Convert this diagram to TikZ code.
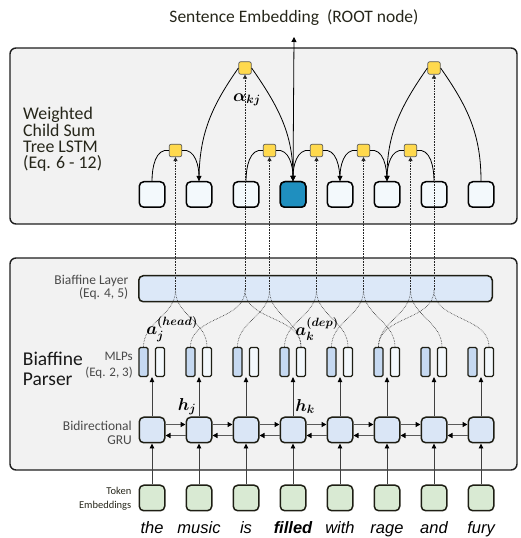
\documentclass[tikz,border=0pt]{standalone}
\usepackage{fontspec}
\setmainfont{Carlito}
\newfontfamily\wordfont{Liberation Sans}
\usepackage{amsmath,bm}
\usetikzlibrary{arrows.meta,calc}
\definecolor{panelbg}{HTML}{F2F2F2}
\definecolor{panelline}{HTML}{1E1E1E}
\definecolor{boxline}{HTML}{1E1E14}
\definecolor{treefill}{HTML}{F3F9FC}
\definecolor{rootfill}{HTML}{1F8FBF}
\definecolor{yfill}{HTML}{FFD94D}
\definecolor{ylinec}{HTML}{5A5A5A}
\definecolor{mlpbfill}{HTML}{C6D9F1}
\definecolor{mlpwfill}{HTML}{F3F8FC}
\definecolor{biaffill}{HTML}{DCE8F8}
\definecolor{grufill}{HTML}{DAE6F6}
\definecolor{tokfill}{HTML}{D9EAD3}
\definecolor{vlinec}{HTML}{404040}
\definecolor{hlinec}{HTML}{5A5A5A}
\definecolor{txtdark}{HTML}{26261A}
\definecolor{txtgray}{HTML}{4A4A4A}
\begin{document}
\begin{tikzpicture}[x=1pt,y=1pt,
 panel/.style={draw=panelline,line width=1.4pt,fill=panelbg,rounded corners=6pt},
 treebox/.style={draw=black,line width=1.5pt,fill=treefill,rounded corners=4.5pt,minimum size=25.5pt,inner sep=0pt},
 grubox/.style={draw=boxline,line width=1.5pt,fill=grufill,rounded corners=4.5pt,minimum size=25.5pt,inner sep=0pt},
 tokbox/.style={draw=boxline,line width=1.5pt,fill=tokfill,rounded corners=4.5pt,minimum size=25.5pt,inner sep=0pt},
 ybox/.style={draw=ylinec,line width=0.7pt,fill=yfill,rounded corners=2pt,minimum size=12.5pt,inner sep=0pt},
 mlpb/.style={draw=boxline,line width=1.2pt,fill=mlpbfill,rounded corners=1.5pt,minimum width=9pt,minimum height=29pt,inner sep=0pt},
 mlpw/.style={mlpb,fill=mlpwfill},
 biaf/.style={draw=boxline,line width=1.5pt,fill=biaffill,rounded corners=4.5pt,minimum width=353.5pt,minimum height=26pt,inner sep=0pt},
 arc/.style={draw=black,line width=0.8pt},
 arcarrow/.style={arc,-{Triangle[length=5pt,width=5pt]}},
 dotline/.style={draw=black!85,line width=0.6pt,densely dotted},
 dotarrow/.style={dotline,-{Triangle[length=4pt,width=4pt]}},
 vup/.style={draw=vlinec,line width=0.9pt,-{Triangle[length=5pt,width=4.5pt,color=black]}},
 hlink/.style={draw=hlinec,line width=1.4pt,-{Triangle[length=5pt,width=5pt,color=black]}},
 word/.style={font=\wordfont\itshape\fontsize{16.5}{16.5}\selectfont,inner sep=0pt,anchor=base},
 mathlab/.style={font=\fontsize{18}{18}\selectfont,inner sep=0pt},
]
\useasboundingbox (0,0) rectangle (520,538);
% panels
\draw[panel] (10,490) rectangle (517,314);
\draw[panel] (10,280) rectangle (517,68);
% title
\node[font=\fontsize{17.5}{17.5}\selectfont,text=txtdark,inner sep=0pt] (title) at (294,520) {Sentence Embedding~ (ROOT node)};
\coordinate (rootend) at (294,501);
% left labels
\node[anchor=west,align=left,inner sep=0pt,text=txtdark,font=\fontsize{17.8}{16.4}\selectfont] (tlabel) at (23,398.5) {Weighted\\Child Sum\\Tree LSTM\\(Eq. 6 - 12)};
\node[anchor=west,align=left,inner sep=0pt,text=black!90,font=\fontsize{19.5}{20}\selectfont] (plabel) at (22.7,169) {Biaffine\\Parser};
\node[anchor=east,align=right,inner sep=0pt,text=txtgray,font=\fontsize{13.5}{13.5}\selectfont] (bllabel) at (128.5,250.5) {Biaffine Layer\\(Eq. 4, 5)};
\node[anchor=east,align=right,inner sep=0pt,text=txtgray,font=\fontsize{13}{16}\selectfont] (mlplabel) at (133,173) {MLPs\\(Eq. 2, 3)};
\node[anchor=east,align=right,inner sep=0pt,text=txtgray,font=\fontsize{13.5}{14.5}\selectfont] (grulabel) at (132,105) {Bidirectional\\GRU};
\node[anchor=east,align=right,inner sep=0pt,text=txtdark,font=\fontsize{10.5}{14}\selectfont] (toklabel) at (131.5,39.3) {Token\\Embeddings};
% biaffine layer
\node[biaf] (bl) at (315.5,249.25) {};
% columns
\foreach \i/\w in {1/the,2/music,3/is,4/{\bfseries filled},5/with,6/rage,7/and,8/fury}{
  \pgfmathsetmacro\cx{152+47*(\i-1)}
  \node[treebox] (t\i) at (\cx,343.5) {};
  \node[grubox] (g\i) at (\cx,108) {};
  \node[tokbox] (e\i) at (\cx,40) {};
  \node[mlpb] (mb\i) at (\cx-8.5,176) {};
  \node[mlpw] (mw\i) at (\cx+8,176) {};
  \node[word] (w\i) at (\cx,5) {\w};
  \draw[vup] (e\i.north) -- (g\i.south);
  \draw[vup] (g\i.north) -- (g\i.north |- mb\i.south);
}
\node[treebox,fill=rootfill] (t4) at (293,343.5) {};
\foreach \i [count=\j from 2] in {1,...,7}{
  \draw[hlink] ([yshift=5.5pt]g\i.east) -- ([yshift=5.5pt]g\j.west);
  \draw[hlink] ([yshift=-5.5pt]g\j.west) -- ([yshift=-5.5pt]g\i.east);
}
% yellow weight nodes
\node[ybox] (y1) at (175.5,387.5) {};
\node[ybox] (y2) at (269.5,387.5) {};
\node[ybox] (y3) at (316.5,387.5) {};
\node[ybox] (y4) at (363.5,387.5) {};
\node[ybox] (y5) at (410.5,387.5) {};
\node[ybox] (ya) at (245,470) {};
\node[ybox] (yb) at (434,470) {};
% dotted attention links
\foreach \y/\mx/\l/\r in {y1/175.5/1/2, ya/245/2/4, y2/269.5/3/4, y3/316.5/4/5, y4/363.5/5/6, y5/410.5/6/7, yb/434/6/8}{
  \coordinate (m\y) at (\mx,248);
  \draw[dotline] (mb\l.north) to[out=90,in=-90] (m\y);
  \draw[dotline] (mw\r.north) to[out=90,in=-90] (m\y);
  \draw[dotarrow] (m\y) -- (\y.south);
}
% tree arcs
\draw[arc] (y1.west) to[out=170,in=90] (t1.north);
\draw[arcarrow] (y1.east) to[out=10,in=90] (t2.north);
\draw[arc] (ya.west) to[out=235,in=90] (t2.north);
\draw[arcarrow] (ya.east) to[out=-55,in=90] (t4.north);
\draw[arc] (y2.west) to[out=170,in=90] (t3.north);
\draw[arcarrow] (y2.east) to[out=10,in=90] (t4.north);
\draw[arcarrow] (y3.west) to[out=170,in=90] (t4.north);
\draw[arc] (y3.east) to[out=10,in=90] (t5.north);
\draw[arcarrow] (y4.west) to[out=170,in=90] (t5.north);
\draw[arc] (y4.east) to[out=10,in=90] (t6.north);
\draw[arcarrow] (y5.west) to[out=170,in=90] (t6.north);
\draw[arc] (y5.east) to[out=10,in=90] (t7.north);
\draw[arcarrow] (yb.west) to[out=235,in=90] (t6.north);
\draw[arc] (yb.east) to[out=-55,in=90] (t8.north);
\draw[arcarrow] (t4.north) -- (rootend);
% math labels
\node[mathlab] (alab) at (247,438) {$\bm{\alpha_{kj}}$};
\node[mathlab] (ahead) at (172,209) {$\bm{a_j^{(head)}}$};
\node[mathlab] (adep) at (317,209) {$\bm{a_k^{(dep)}}$};
\node[mathlab] (hj) at (187,131.3) {$\bm{h_j}$};
\node[mathlab] (hk) at (305,131.3) {$\bm{h_k}$};
\end{tikzpicture}
\end{document}
